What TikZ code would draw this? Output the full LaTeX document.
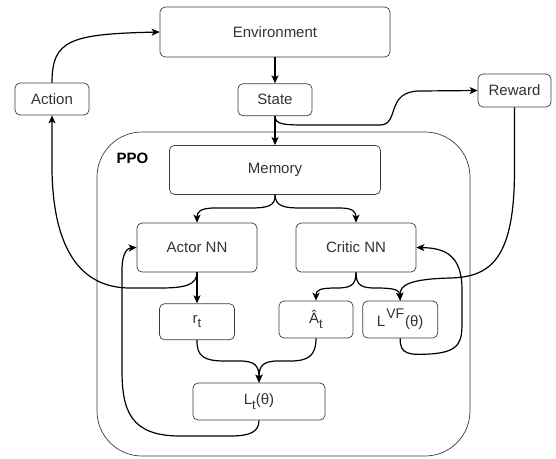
\documentclass[tikz,border=0pt]{standalone}
\usepackage{fontspec}
\setmainfont{Liberation Sans}
\usetikzlibrary{arrows.meta,positioning}
\definecolor{ink}{HTML}{333333}
\definecolor{rim}{HTML}{3C3C3C}
\tikzset{box/.style={draw=rim,fill=white,rounded corners=5pt,line width=0.7pt,text=ink,font=\fontsize{15}{18}\selectfont,inner sep=0pt}, group/.style={draw=rim,rounded corners=45pt,line width=0.7pt}, flow/.style={-{Stealth[length=8pt,width=7pt,inset=2pt]},line width=1.2pt,draw=black}}
\newcommand{\lowsub}[1]{\raisebox{-4.5pt}{\fontsize{13}{13}\selectfont #1}}
\newcommand{\highsup}[1]{\raisebox{8pt}{\fontsize{14}{14}\selectfont #1}}

\begin{document}
\begin{tikzpicture}[x=1pt,y=-1pt]
\useasboundingbox (0,0) rectangle (556,458);
\node[group,minimum width=373pt,minimum height=324pt] (ppo) at (283.5,294) {};
\node[text=black,font=\fontsize{15}{18}\selectfont\bfseries] (ppolbl) at (132.5,158) {PPO};
\node[box,minimum width=230pt,minimum height=50pt] (env) at (275,32) {Environment};
\node[box,minimum width=74pt,minimum height=32pt,below=26pt of env] (state) {State};
\node[box,minimum width=74pt,minimum height=32pt] (action) at (52,99) {Action};
\node[box,minimum width=73pt,minimum height=33pt] (reward) at (514.5,90.5) {Reward};
\node[box,minimum width=211pt,minimum height=49pt,below=29pt of state] (memory) {Memory};
\node[box,minimum width=120pt,minimum height=49pt] (actor) at (197,247.5) {Actor NN};
\node[box,minimum width=120pt,minimum height=49pt] (critic) at (356,247.5) {Critic NN};
\node[box,minimum width=75pt,minimum height=36pt,below=31pt of actor] (rt) {r\lowsub{t}};
\node[box,minimum width=74pt,minimum height=37pt] (adv) at (316,319.5) {Â\lowsub{t}};
\node[box,minimum width=75pt,minimum height=37pt,right=9pt of adv] (lvf) {L\hspace{1pt}\highsup{VF}\hspace{1pt}(θ)};
\node[box,minimum width=132pt,minimum height=37pt] (lt) at (259,401.5) {L\lowsub{t}(θ)};
% environment loop
\draw[flow] (action.north) .. controls (52,40) and (70,34) .. (env.west);
\draw[flow] (env.south) -- (state.north);
\draw[flow] (state.south) -- (memory.north);
\draw[flow] (state.south) .. controls (275,125) and (285,125) .. (310,125) -- (380,125) .. controls (400,125) and (385,91) .. (420,91) -- (reward.west);
% memory to networks
\draw[flow] (memory.south) .. controls (275.5,206) and (268,208) .. (250,208) -- (215,208) .. controls (200,208) and (197,212) .. (actor.north);
\draw[flow] (memory.south) .. controls (275.5,206) and (283,208) .. (301,208) -- (340,208) .. controls (353,208) and (356,212) .. (critic.north);
\draw[flow] (actor.south) -- (actor.south |- rt.north);
\draw[flow] (critic.south) .. controls (356,286) and (350,288) .. (336,288) .. controls (320,288) and (316,290) .. (adv.north);
\draw[flow] (critic.south) .. controls (356,286) and (362,288) .. (376,288) .. controls (395,288) and (399.5,290) .. (lvf.north);
\draw[flow] (reward.south) -- (514.5,170) .. controls (514.5,260) and (490,277) .. (450,278) .. controls (410,279) and (399.5,285) .. (lvf.north);
\draw[flow] (lvf.south) .. controls (399.5,355) and (410,355) .. (430,354) .. controls (462,352) and (462,340) .. (462,320) -- (462,290) .. controls (462,255) and (445,248) .. (critic.east);
% actor output and loss
\draw[flow] (actor.south) .. controls (197,285) and (185,288) .. (160,288) -- (130,288) .. controls (75,288) and (53,240) .. (52,170) -- (action.south);
\draw[flow] (rt.south) .. controls (196.5,357) and (205,361) .. (225,361) -- (240,361) .. controls (255,361) and (259,366) .. (lt.north);
\draw[flow] (adv.south) .. controls (316,356) and (308,361) .. (290,361) -- (278,361) .. controls (263,361) and (259,366) .. (lt.north);
\draw[flow] (lt.south) .. controls (259,432) and (250,436) .. (230,436) -- (180,436) .. controls (130,436) and (122,410) .. (122,370) -- (122,270) .. controls (122,252) and (128,248) .. (actor.west);
\end{tikzpicture}
\end{document}
